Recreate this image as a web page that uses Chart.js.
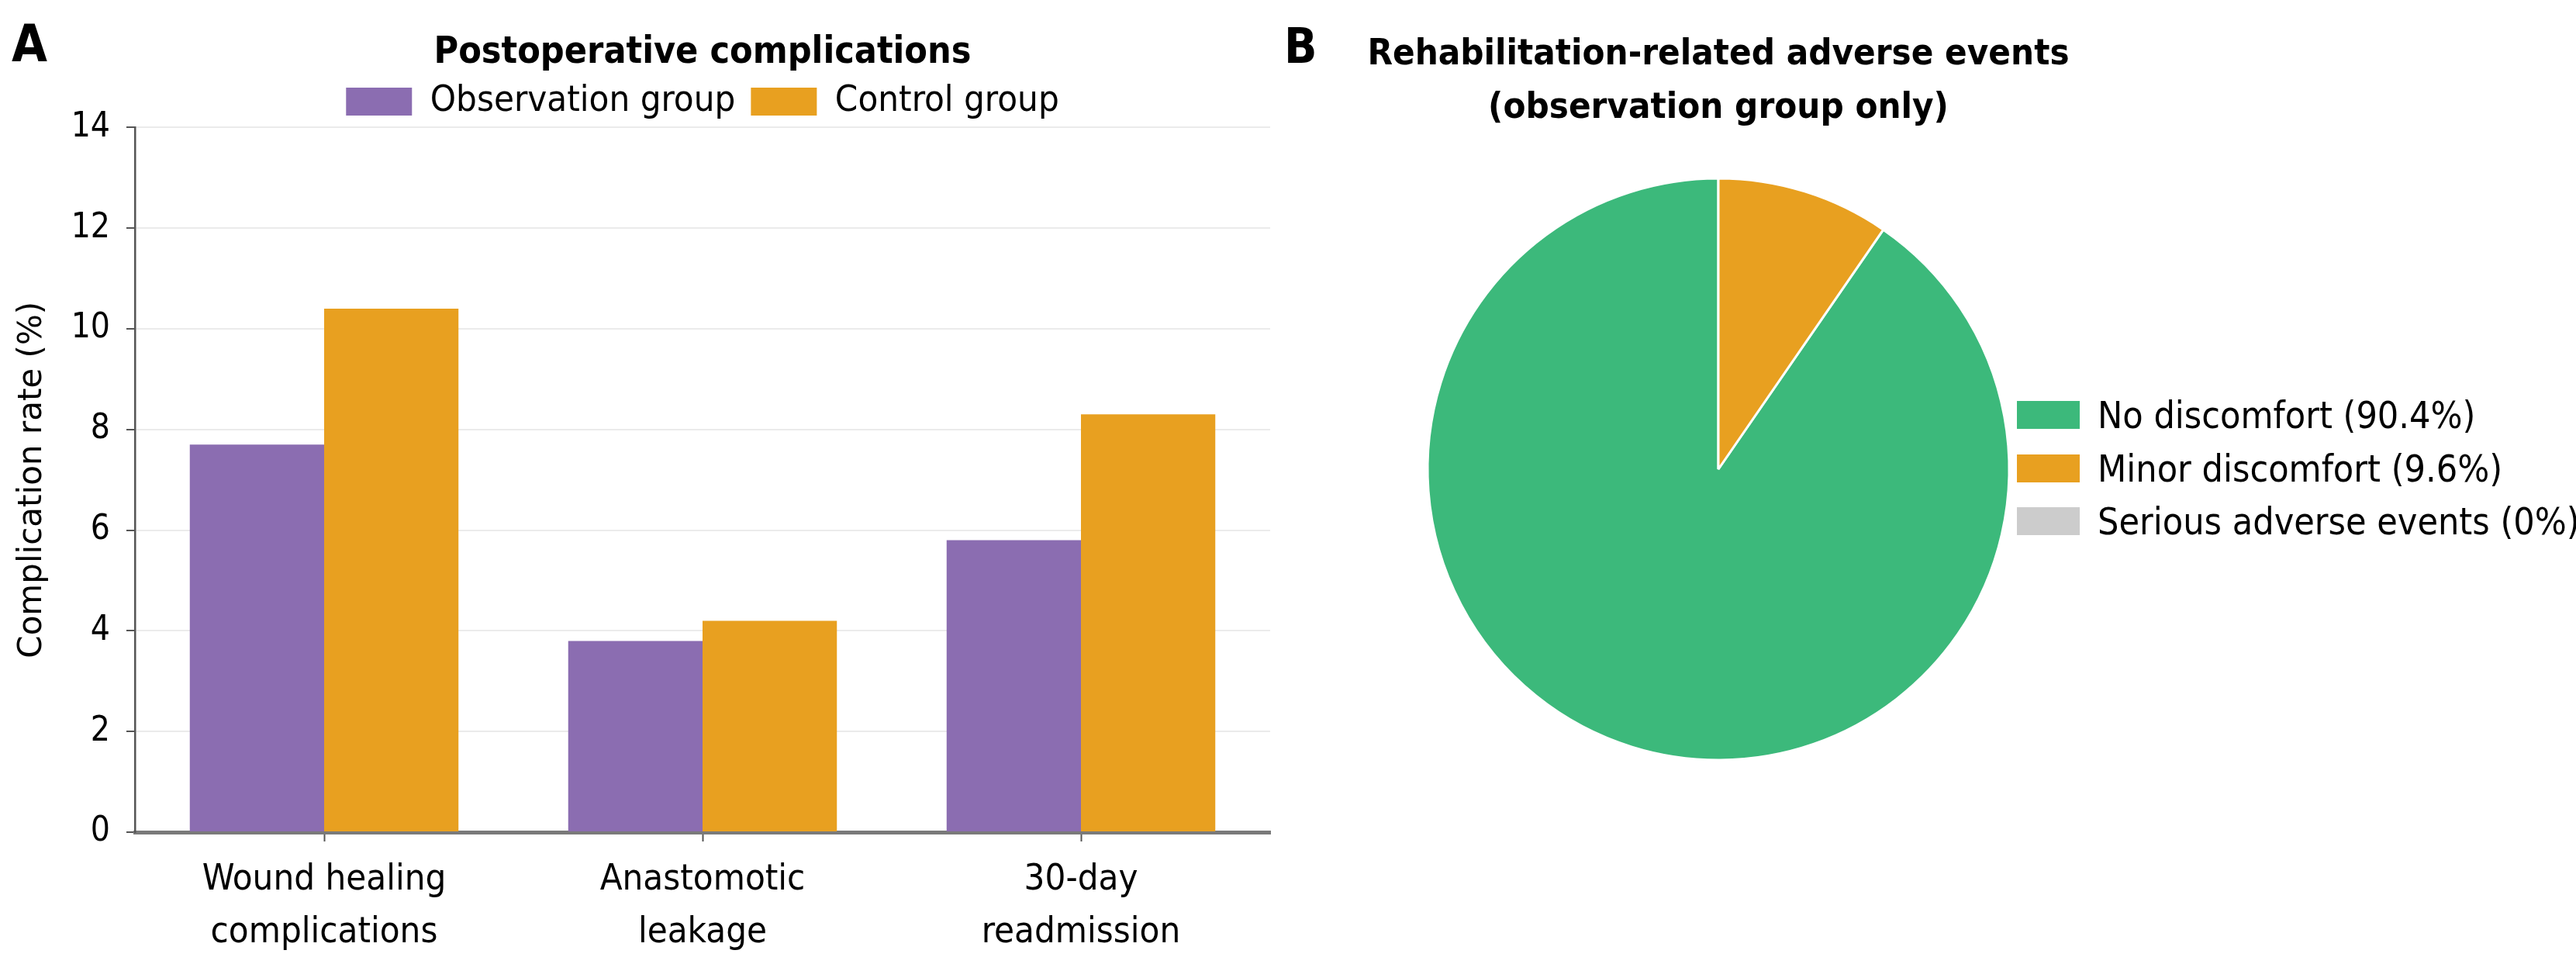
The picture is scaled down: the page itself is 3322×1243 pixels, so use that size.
<!DOCTYPE html>
<html>
<head>
<meta charset="utf-8">
<title>Postoperative complications / rehabilitation-related adverse events</title>
<script src="https://cdn.jsdelivr.net/npm/chart.js@4.4.1/dist/chart.umd.min.js"></script>
<style>
  html, body { margin: 0; padding: 0; background: #fff; }
  body { width: 3322px; height: 1243px; position: relative; overflow: hidden;
         font-family: 'DejaVu Sans Condensed', 'DejaVu Sans', sans-serif; color: #000; }
  .panel-label { position: absolute; font-weight: bold; line-height: 1; }
  #barBox { position: absolute; left: 0; top: 0; width: 1660px; height: 1243px; }
  #pieBox { position: absolute; left: 1660px; top: 0; width: 1112px; height: 1243px; }
  #pieLegend { position: absolute; left: 2601px; top: 501px; }
  .legend-row { display: flex; align-items: center; height: 68.5px; font-size: 48px; white-space: nowrap; }
  .legend-swatch { display: inline-block; width: 81px; height: 36px; margin-right: 23px; }
</style>
</head>
<body>
<div class="panel-label" style="left:15px; top:24px; font-size:66px;">A</div>
<div class="panel-label" style="left:1656px; top:29px; font-size:62px;">B</div>
<div id="barBox"><canvas id="barChart"></canvas></div>
<div id="pieBox"><canvas id="pieChart"></canvas></div>
<div id="pieLegend"></div>
<script>
// panel A data
const categories = [['Wound healing', 'complications'], ['Anastomotic', 'leakage'], ['30-day', 'readmission']];
const observationRates = [7.7, 3.8, 5.8];
const controlRates = [10.4, 4.2, 8.3];
const yTickValues = [0, 2, 4, 6, 8, 10, 12, 14];

// panel B data
const eventLabels = ['No discomfort (90.4%)', 'Minor discomfort (9.6%)', 'Serious adverse events (0%)'];
const eventShares = [90.4, 9.6, 0];
const eventColors = ['#3cb97b', '#e8a020', '#cccccc'];

const FONT = "'DejaVu Sans Condensed', 'DejaVu Sans', sans-serif";
Chart.defaults.color = '#000';
Chart.defaults.font.family = FONT;

const barCtx = document.getElementById('barChart');
new Chart(barCtx, {
  type: 'bar',
  data: {
    labels: categories,
    datasets: [
      { label: 'Observation group', data: observationRates, backgroundColor: '#8b6db1',
        categoryPercentage: 0.71, barPercentage: 1.0 },
      { label: 'Control group', data: controlRates, backgroundColor: '#e8a020',
        categoryPercentage: 0.71, barPercentage: 1.0 }
    ]
  },
  options: {
    responsive: true,
    maintainAspectRatio: false,
    animation: false,
    events: [],
    layout: { padding: { left: 0, right: 22, top: 0, bottom: 0 } },
    plugins: {
      title: {
        display: true,
        text: 'Postoperative complications',
        fullSize: false,
        // tight line height so the legend can keep its wider item gap
        font: { size: 48, weight: 'bold', lineHeight: 0.8 },
        padding: { top: 49, bottom: 0 }
      },
      legend: {
        position: 'top',
        fullSize: false,
        labels: { boxWidth: 85, boxHeight: 36, padding: 20, font: { size: 47 } }
      },
      tooltip: { enabled: false }
    },
    scales: {
      x: {
        grid: { display: true, drawOnChartArea: false, offset: false, tickLength: 12, tickColor: '#555', tickWidth: 2 },
        border: { display: true, color: '#7a7a7a', width: 5 },
        ticks: { padding: 16, maxRotation: 0, font: { size: 47, lineHeight: 1.45 } },
        afterFit: (axis) => { axis.height = 170; }
      },
      y: {
        min: 0,
        max: 14,
        afterBuildTicks: (axis) => { axis.ticks = yTickValues.map(v => ({ value: v })); },
        grid: { color: '#ebebeb', lineWidth: 2, tickLength: 11, tickColor: '#555', tickWidth: 2 },
        border: { display: true, color: '#555', width: 2.5 },
        ticks: { padding: 21, font: { size: 44 } },
        title: {
          display: true,
          text: 'Complication rate (%)',
          font: { family: "'DejaVu Sans', sans-serif", size: 42 },
          padding: { top: 17, bottom: 4 }
        },
        afterFit: (axis) => { axis.width = 174; }
      }
    }
  }
});

const pieCtx = document.getElementById('pieChart');
new Chart(pieCtx, {
  type: 'pie',
  data: {
    labels: eventLabels,
    datasets: [{
      data: eventShares,
      backgroundColor: eventColors,
      borderColor: '#fff',
      borderWidth: 3,
      hoverOffset: 0,
      radius: 375
    }]
  },
  options: {
    responsive: true,
    maintainAspectRatio: false,
    animation: false,
    events: [],
    // minor discomfort slice starts at 12 o'clock and runs clockwise
    rotation: (100 - eventShares[0]) / 100 * 360,
    layout: { padding: { bottom: 207 } },
    plugins: {
      title: {
        display: true,
        text: ['Rehabilitation-related adverse events', '(observation group only)'],
        font: { size: 47, weight: 'bold', lineHeight: 1.468 },
        padding: { top: 36, bottom: 0 }
      },
      legend: { display: false },
      tooltip: { enabled: false }
    }
  }
});

// legend for panel B, right of the pie
const pieLegend = document.getElementById('pieLegend');
eventLabels.forEach((text, i) => {
  const row = document.createElement('div');
  row.className = 'legend-row';
  const swatch = document.createElement('span');
  swatch.className = 'legend-swatch';
  swatch.style.background = eventColors[i];
  const label = document.createElement('span');
  label.textContent = text;
  row.append(swatch, label);
  pieLegend.append(row);
});
</script>
</body>
</html>
